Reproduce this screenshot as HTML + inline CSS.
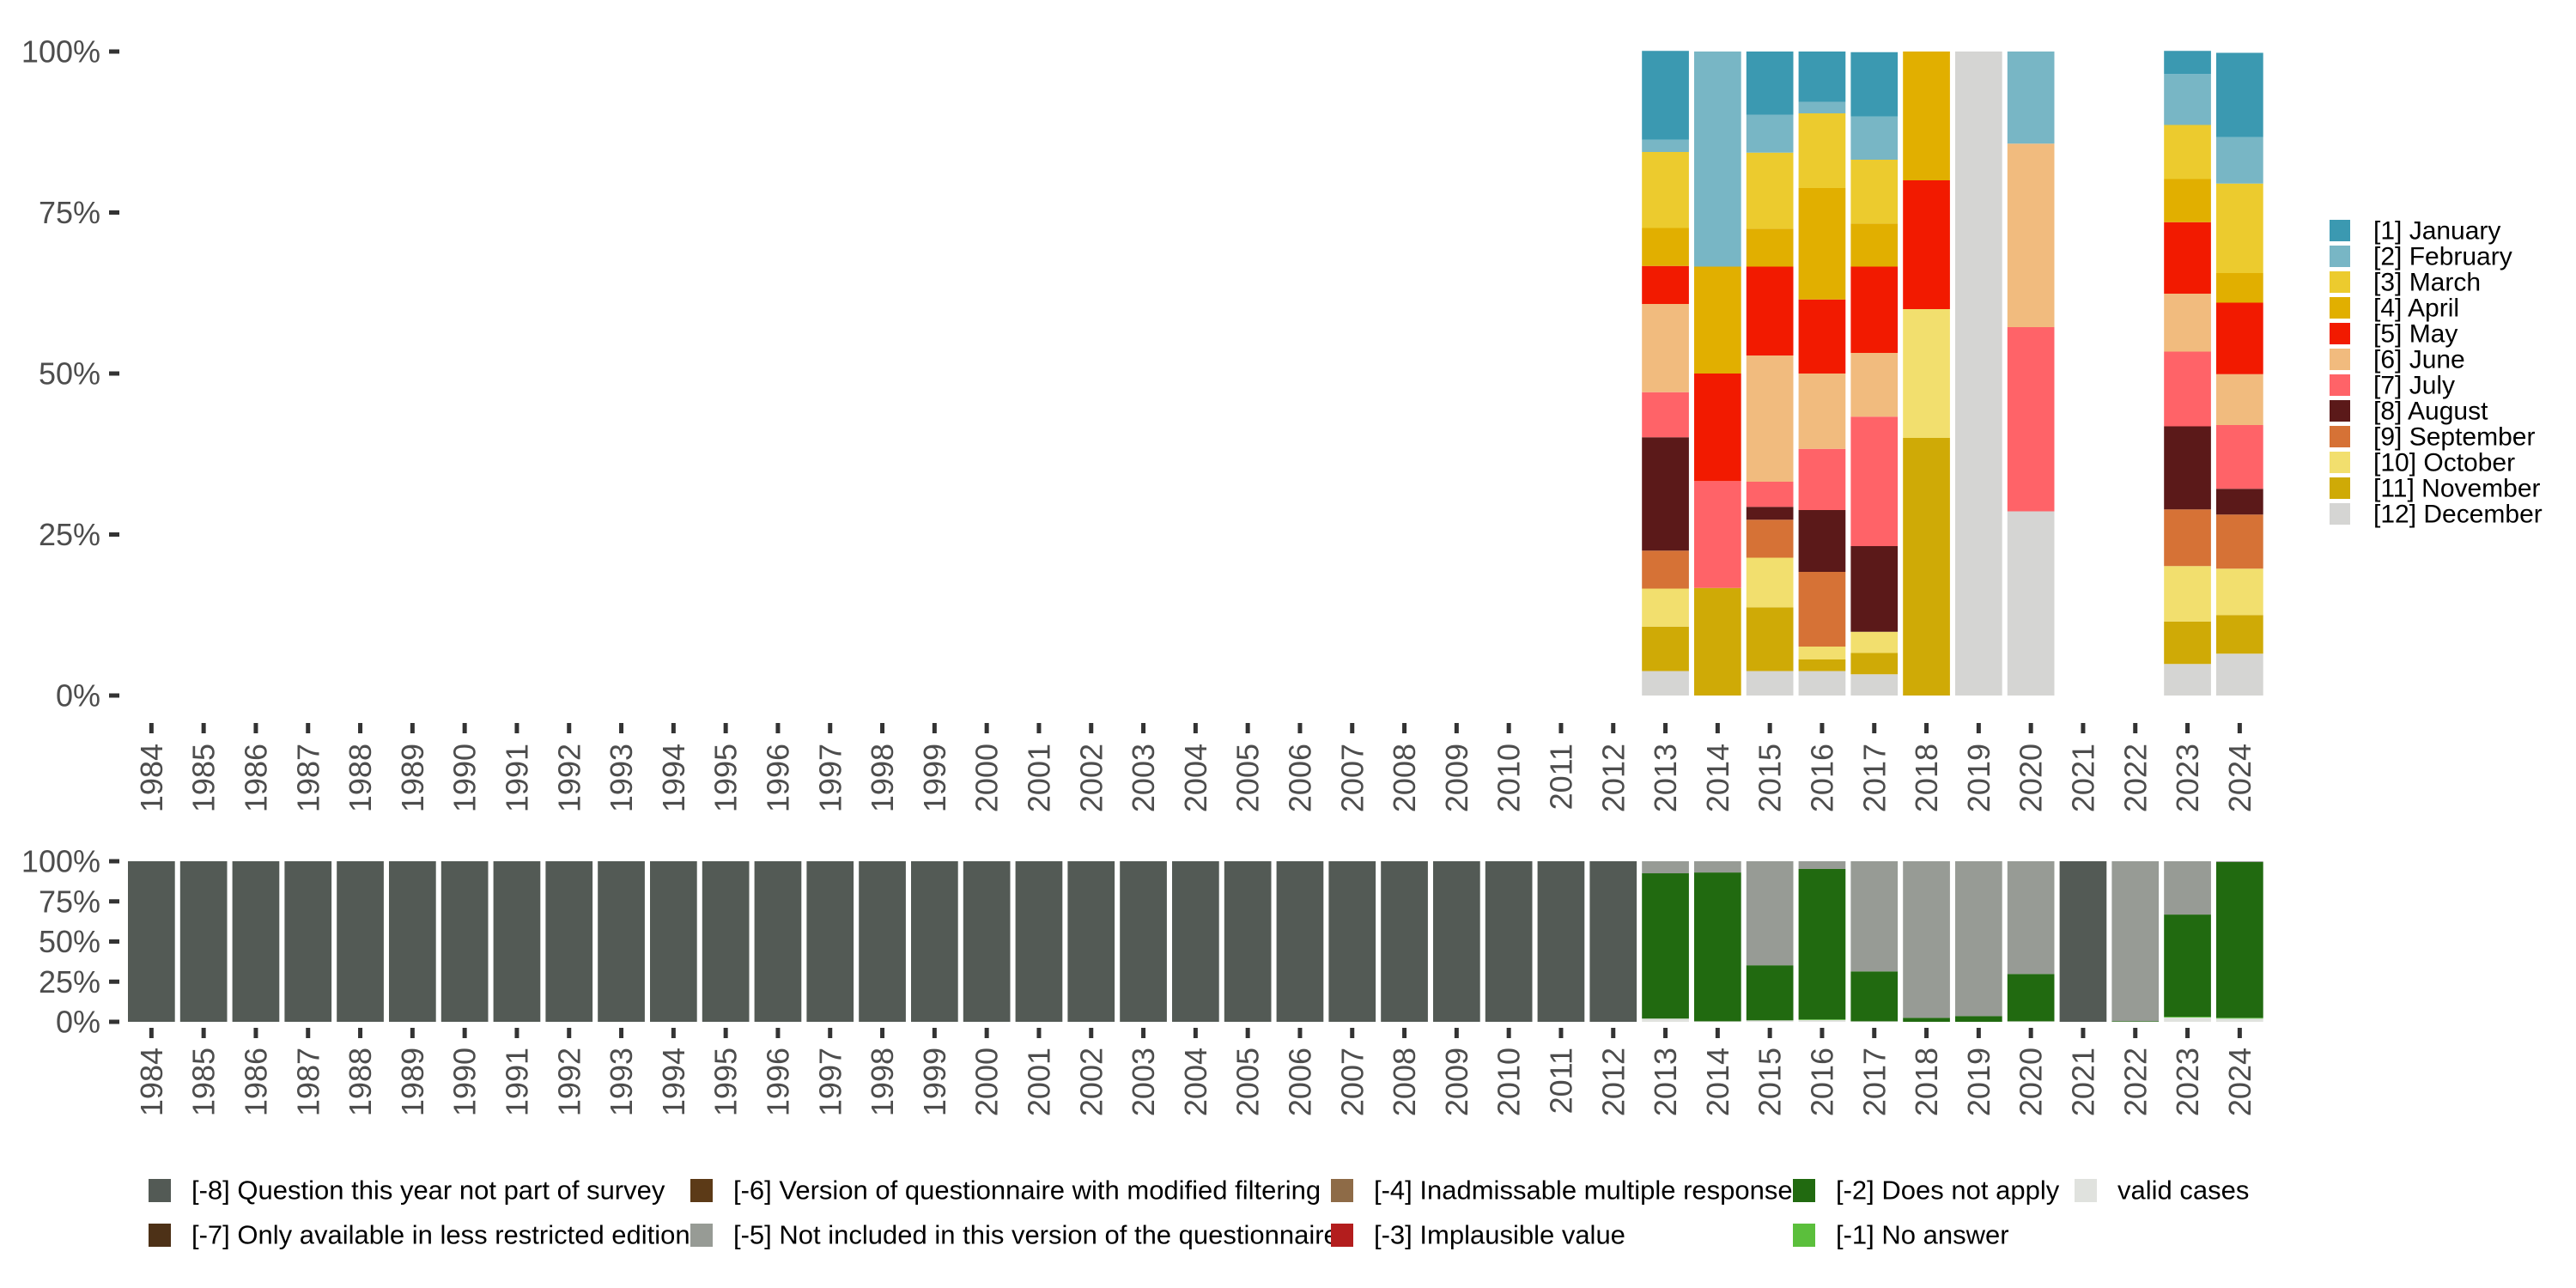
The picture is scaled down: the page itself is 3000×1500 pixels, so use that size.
<!DOCTYPE html>
<html><head><meta charset="utf-8"><style>
html,body{margin:0;padding:0;background:#fff;}
svg{display:block;font-family:"Liberation Sans",sans-serif;}
</style></head><body>
<svg id="chart" width="3000" height="1500" viewBox="0 0 3000 1500" xmlns="http://www.w3.org/2000/svg"></svg>
<script>
const years = [];
for (let y = 1984; y <= 2024; y++) years.push(y);
const months = ["[1] January","[2] February","[3] March","[4] April","[5] May","[6] June","[7] July","[8] August","[9] September","[10] October","[11] November","[12] December"];
const monthColors = ["#3b99b1","#78b6c5","#eccb2e","#e1af00","#f21a00","#f1bb7e","#ff6368","#5b1919","#d67236","#f2df6e","#cfaa06","#d5d5d3"];
// month shares (Jan..Dec) per year
const m2013 = [13.8,1.9,11.8,5.9,5.9,13.7,7.0,17.6,5.9,5.9,6.9,3.8];
const m2014 = [0,33.4,0,16.6,16.7,0,16.6,0,0,0,16.7,0];
const m2015 = [9.8,5.9,11.8,5.9,13.8,19.6,3.9,2.0,5.9,7.7,9.9,3.8];
const m2016 = [7.8,1.8,11.6,17.3,11.5,11.7,9.5,9.6,11.6,2.0,1.8,3.8];
const m2017 = [10.0,6.7,9.9,6.7,13.4,9.9,20.1,13.3,0,3.3,3.3,3.3];
const m2018 = [0,0,0,20,20,0,0,0,0,20,40,0];
const m2019 = [0,0,0,0,0,0,0,0,0,0,0,100];
const m2020 = [0,14.3,0,0,0,28.5,28.6,0,0,0,0,28.6];
const m2023 = [3.6,7.9,8.4,6.7,11.1,9.0,11.6,12.9,8.8,8.6,6.6,4.9];
const m2024 = [13.1,7.2,13.9,4.6,11.1,7.9,9.9,4.0,8.4,7.2,6.0,6.5];
const monthYears = [2013,2014,2015,2016,2017,2018,2019,2020,2023,2024];
const monthData = [m2013,m2014,m2015,m2016,m2017,m2018,m2019,m2020,m2023,m2024];

const missCats = ["[-8] Question this year not part of survey","[-7] Only available in less restricted edition","[-6] Version of questionnaire with modified filtering","[-5] Not included in this version of the questionnaire","[-4] Inadmissable multiple response","[-3] Implausible value","[-2] Does not apply","[-1] No answer","valid cases"];
const missColors = ["#535a55","#4d3117","#5c3a17","#979b95","#8e6b47","#b31d1d","#216a10","#5bbf3c","#e0e2de"];
// shares per category (-8,-7,-6,-5,-4,-3,-2,-1,valid)
const s2013 = [0,0,0,7.5,0,0,90.5,0,2.0];
const s2014 = [0,0,0,7.0,0,0,92.7,0,0.3];
const s2015 = [0,0,0,64.8,0,0,34.3,0,0.9];
const s2016 = [0,0,0,4.8,0,0,93.7,0.4,1.1];
const s2017 = [0,0,0,68.6,0,0,31.1,0,0.3];
const s2018 = [0,0,0,97.5,0,0,2.5,0,0];
const s2019 = [0,0,0,96.4,0,0,3.6,0,0];
const s2020 = [0,0,0,70.2,0,0,29.5,0,0.3];
const s2021 = [100,0,0,0,0,0,0,0,0];
const s2022 = [0,0,0,99.6,0,0,0.4,0,0];
const s2023 = [0,0,0,33.2,0,0,63.6,0.5,2.7];
const s2024 = [0,0,0,0.5,0,0,97.0,0.5,2.0];
const sNotInSurvey = [100,0,0,0,0,0,0,0,0];
const missYearData = {2013:s2013,2014:s2014,2015:s2015,2016:s2016,2017:s2017,2018:s2018,2019:s2019,2020:s2020,2021:s2021,2022:s2022,2023:s2023,2024:s2024};
const yTicks = [0,25,50,75,100];
const yTickLabels = ["0%","25%","50%","75%","100%"];

const svg = document.getElementById('chart');
const NS = "http://www.w3.org/2000/svg";
function el(tag, attrs, parent){const e=document.createElementNS(NS,tag);for(const k in attrs)e.setAttribute(k,attrs[k]);(parent||svg).appendChild(e);return e;}

const pitch = 60.8, bw = 54.7, x0 = 149;
function xLeft(year){return x0 + (year-1984)*pitch;}
function xCenter(year){return xLeft(year)+bw/2;}
function makeY(top,bottom){return v => bottom - v/100*(bottom-top);}
const yTop = makeY(60,810);
const yBot = makeY(1003,1190);

function axes(yfn, tickY1, tickY2, labelY, fs, prefix){
  const g = el('g',{});
  
  
  yTicks.forEach((t,i)=>{
    const y=yfn(t);
    const tk = el('line',{x1:127,x2:139,y1:y,y2:y,stroke:'#333',"stroke-width":5},g);
    
    
    const tx = el('text',{x:117,y:y,"text-anchor":"end","dominant-baseline":"central","font-size":fs,fill:'#4d4d4d'},g);
    tx.textContent = yTickLabels[i];
    
    
  });
  years.forEach(yr=>{
    const cx=xCenter(yr);
    const tk = el('line',{x1:cx,x2:cx,y1:tickY1,y2:tickY2,stroke:'#333',"stroke-width":5},g);
    
    
    const tx = el('text',{x:0,y:0,"text-anchor":"end","dominant-baseline":"central","font-size":fs,fill:'#4d4d4d',transform:`translate(${cx},${labelY}) rotate(-90)`},g);
    tx.textContent = yr;
    
    
  });
}

// top chart bars (Dec at bottom, Jan at top)
monthYears.forEach((yr,i)=>{
  const vals = monthData[i];
  let cum = 0;
  for (let k = vals.length-1; k >= 0; k--){
    const v = vals[k];
    if (v <= 0) continue;
    const yA = yTop(cum), yB = yTop(cum+v);
    const r = el('rect',{x:xLeft(yr),y:yB,width:bw,height:yA-yB,fill:monthColors[k]});
    
    
    cum += v;
  }
});
axes(yTop, 842, 854, 866, 36, 'month-chart');

// bottom chart bars (valid at bottom, -8 at top)
years.forEach(yr=>{
  const vals = missYearData[yr] || sNotInSurvey;
  let cum = 0;
  for (let k = vals.length-1; k >= 0; k--){
    const v = vals[k];
    if (v <= 0) continue;
    const yA = yBot(cum), yB = yBot(cum+v);
    const r = el('rect',{x:xLeft(yr),y:yB,width:bw,height:yA-yB,fill:missColors[k]});
    
    
    cum += v;
  }
});
axes(yBot, 1197, 1209, 1220, 36, 'missing-chart');

// month legend
months.forEach((m,i)=>{
  const y = 256 + i*30;
  const sq = el('rect',{x:2713,y:y,width:24,height:25,fill:monthColors[i]});
  
  
  const t = el('text',{x:2764,y:y+13,"dominant-baseline":"central","font-size":30,fill:'#000'});
  t.textContent = m;
  
  
});

// missing legend
const legCols = [173,804,1550,2088,2416];
missCats.forEach((c,i)=>{
  const col = Math.floor(i/2), row = i%2;
  const x = legCols[col], y = 1373 + row*52;
  const sq = el('rect',{x:x,y:y,width:26,height:27,fill:missColors[i]});
  
  
  const t = el('text',{x:x+50,y:y+13,"dominant-baseline":"central","font-size":31,fill:'#000'});
  t.textContent = c;
  
  
});
</script>
</body></html>
